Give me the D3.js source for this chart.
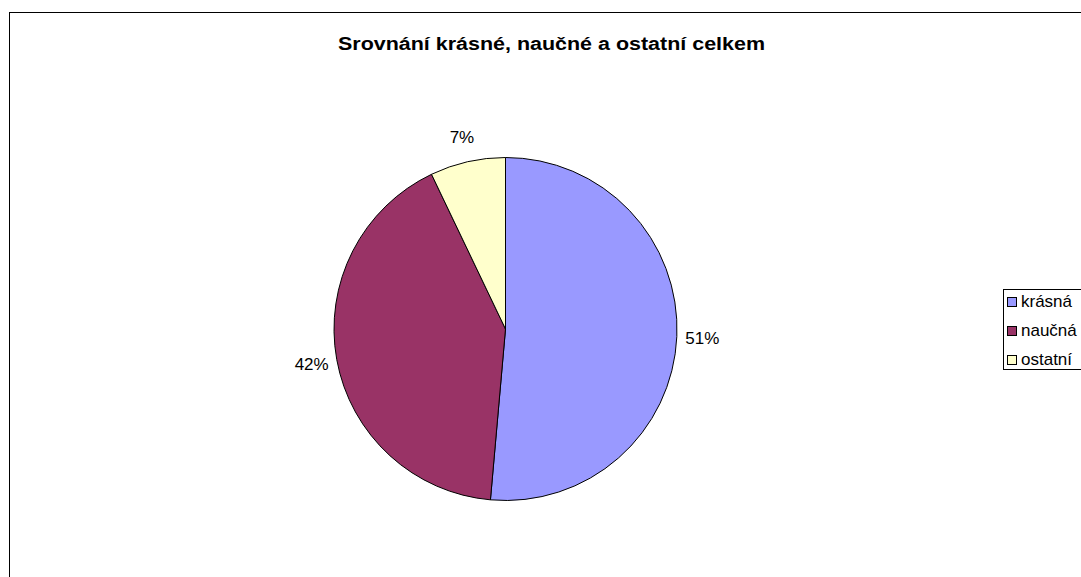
<!DOCTYPE html>
<html>
<head>
<meta charset="utf-8">
<script src="https://cdn.jsdelivr.net/npm/d3@7"></script>
<style>
html,body{margin:0;padding:0;background:#fff;}
svg{display:block;font-family:Arial,"Liberation Sans",sans-serif;}
</style>
</head>
<body>
<svg id="chart" width="1081" height="577"></svg>
<script>
const categories = ["krásná", "naučná", "ostatní"];
const values = [51.4, 41.5, 7.1];
const colors = ["#9999FF", "#993366", "#FFFFCC"];
const title = "Srovnání krásné, naučné a ostatní celkem";

const svg = d3.select("#chart");
const W = 1081, H = 577;

// chart area border (extends past the picture edge)
svg.append("rect").attr("x", 9.5).attr("y", 12.5).attr("width", 1100).attr("height", 600)
  .attr("fill", "#fff").attr("stroke", "#000").attr("stroke-width", 1);

// title
svg.append("text").attr("x", 551.5).attr("y", 50).attr("text-anchor", "middle")
  .attr("font-size", 17.5).attr("font-weight", "bold").attr("fill", "#000")
  .attr("textLength", 427).attr("lengthAdjust", "spacingAndGlyphs")
  .text(title);

const cx = 505.5, cy = 329, r = 171.5;
const total = d3.sum(values);
const data = categories.map((c, i) => ({ cat: c, value: values[i], color: colors[i] }));

const pie = d3.pie().sort(null).value(d => d.value);
const arcs = pie(data);
const arc = d3.arc().innerRadius(0).outerRadius(r);
const labelArc = d3.arc().innerRadius(197).outerRadius(197);

const g = svg.append("g").attr("transform", `translate(${cx},${cy})`);
g.selectAll("path.slice").data(arcs).join("path")
  .attr("class", "slice")
  .attr("d", arc)
  .attr("fill", d => d.data.color)
  .attr("stroke", "#000").attr("stroke-width", 1).attr("stroke-linejoin", "round");

const fmt = d3.format(".0%");
g.selectAll("text.lbl").data(arcs).join("text")
  .attr("class", "lbl")
  .attr("transform", d => `translate(${labelArc.centroid(d)})`)
  .attr("text-anchor", "middle")
  .attr("dy", "0.36em")
  .attr("font-size", 17).attr("fill", "#000")
  .text(d => fmt(d.data.value / total));

// legend
const lx = 1003.5, ly = 289.5;
svg.append("rect").attr("x", lx).attr("y", ly).attr("width", 120).attr("height", 80)
  .attr("fill", "#fff").attr("stroke", "#000").attr("stroke-width", 1);
const rowY = d3.scalePoint().domain(categories).range([307, 365]);
const lg = svg.append("g");
lg.selectAll("rect.sw").data(data).join("rect").attr("class", "sw")
  .attr("x", 1007.5).attr("y", d => rowY(d.cat) - 9.5)
  .attr("width", 9).attr("height", 9)
  .attr("fill", d => d.color).attr("stroke", "#000").attr("stroke-width", 1);
lg.selectAll("text.lt").data(data).join("text").attr("class", "lt")
  .attr("x", 1021).attr("y", d => rowY(d.cat))
  .attr("font-size", 17).attr("fill", "#000")
  .text(d => d.cat);
</script>
</body>
</html>
